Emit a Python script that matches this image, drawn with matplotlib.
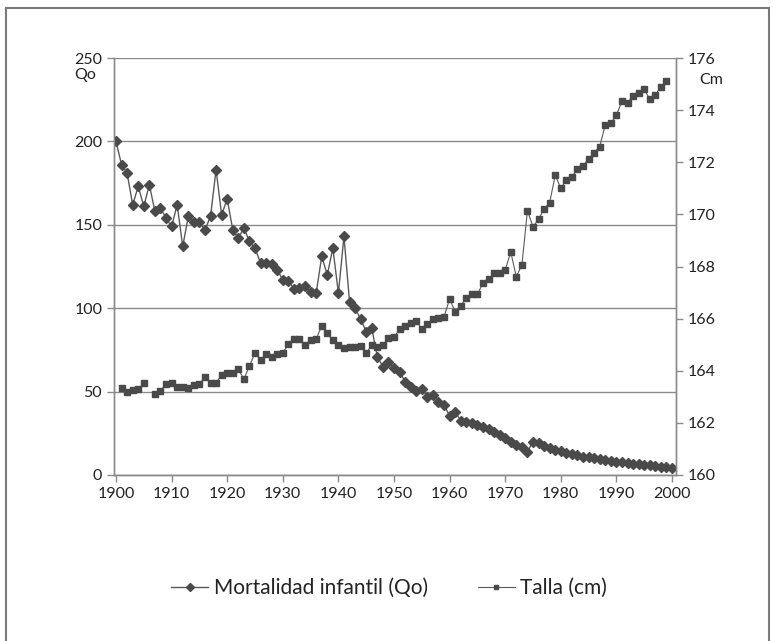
import numpy as np
from matplotlib import pyplot as plt
from matplotlib.lines import Line2D

plt.rcParams['font.family'] = ['Lato', 'DejaVu Sans']

# mortalidad infantil (Qo), 1900-2000
years_qo = list(range(1900, 2001))
qo = [200, 186, 181, 162, 173, 161, 174, 158, 160, 154,
      149, 162, 137, 155, 151.5, 151.5, 147, 155, 183, 156,
      165.5, 147, 142, 148, 140, 136, 127, 127, 126.5, 123,
      117, 116.5, 111.5, 112, 113.5, 110, 109, 131, 120, 136,
      109, 143, 104, 100, 93.5, 86, 88, 71, 65, 68,
      64, 62, 56, 52.5, 50.5, 51.5, 47, 48, 44, 42,
      35.5, 38, 32.5, 32, 31, 30, 29, 27.5, 26, 24,
      22, 20, 18, 16.5, 14, 20, 19, 17.5, 16, 15,
      14.5, 13, 12.5, 12, 11, 10.5, 10, 9.5, 9, 8.5,
      8, 7.5, 7, 6.8, 6.5, 6, 5.8, 5.4, 5, 4.7,
      4.3]

# talla (cm), 1901-1999 (1906 sin dato)
years_talla = list(range(1901, 2000))
talla = [163.33, 163.20, 163.26, 163.29, 163.52, np.nan, 163.10, 163.23, 163.49,
         163.54, 163.39, 163.37, 163.33, 163.45, 163.49, 163.77, 163.52, 163.54, 163.84,
         163.93, 163.93, 164.06, 163.68, 164.18, 164.69, 164.41, 164.63, 164.54, 164.64,
         164.69, 165.02, 165.21, 165.21, 164.99, 165.18, 165.21, 165.73, 165.44, 165.18,
         164.99, 164.86, 164.90, 164.92, 164.95, 164.67, 164.99, 164.92, 164.99, 165.25,
         165.28, 165.59, 165.72, 165.84, 165.92, 165.59, 165.79, 165.97, 166.01, 166.07,
         166.75, 166.27, 166.50, 166.78, 166.93, 166.93, 167.36, 167.51, 167.74, 167.76,
         167.87, 168.55, 167.61, 168.06, 170.14, 169.53, 169.81, 170.21, 170.45, 171.51,
         171.00, 171.32, 171.45, 171.74, 171.87, 172.13, 172.37, 172.60, 173.43, 173.50,
         173.81, 174.35, 174.29, 174.54, 174.67, 174.80, 174.42, 174.58, 174.90, 175.12]

qo_ticks = [0, 50, 100, 150, 200, 250]
talla_ticks = [160, 162, 164, 166, 168, 170, 172, 174, 176]
year_ticks = list(range(1900, 2001, 10))

W, H = 774, 641
fig = plt.figure(figsize=(W/100, H/100), dpi=100)
ax = fig.add_axes([114/W, 1-475/H, (676-114)/W, (475-58)/H])
ax2 = ax.twinx()

mark_col = '#4a4a4a'
line_col = '#5a5a5a'
grid_col = '#8a8a8a'
text_col = '#222222'

ax.plot(years_qo, qo, color=line_col, lw=1.0, marker='D', ms=5.5,
        mfc=mark_col, mec=mark_col, zorder=3)
ax2.plot(years_talla, talla, color=line_col, lw=0.8, marker='s', ms=4.5,
         mfc=mark_col, mec=mark_col, zorder=3)

ax.set_xlim(1899.64, 2000.72)
ax.set_ylim(0, 250)
ax2.set_ylim(160, 176)
ax.set_xticks(year_ticks)
ax.set_yticks(qo_ticks)
ax2.set_yticks(talla_ticks)

# horizontal gridlines only
ax.grid(axis='y', color=grid_col, lw=1.0)
ax.set_axisbelow(True)

for a in (ax, ax2):
    a.spines['top'].set_visible(False)
    for side in ('left', 'right', 'bottom'):
        a.spines[side].set_color(grid_col)
        a.spines[side].set_linewidth(1.0)
    a.tick_params(colors=grid_col, labelcolor=text_col, labelsize=11.5,
                  length=5, width=1.0, direction='out')

# axis titles placed in pixels, like the original
fig.text(85/W, 1-75/H, 'Qo', fontsize=11.5, color=text_col,
         ha='center', va='center')
fig.text(711/W, 1-80/H, 'Cm', fontsize=11.5, color=text_col,
         ha='center', va='center')

# legend below the plot
h1 = Line2D([], [], color=line_col, lw=1.0, marker='D', ms=4,
            mfc=mark_col, mec=mark_col)
h2 = Line2D([], [], color=line_col, lw=0.8, marker='s', ms=3.5,
            mfc=mark_col, mec=mark_col)
fig.legend([h1, h2], ['Mortalidad infantil (Qo)', 'Talla (cm)'],
           loc='center', bbox_to_anchor=(389/W, 1-588/H), ncol=2,
           frameon=False, fontsize=15, handlelength=1.8,
           handletextpad=0.25, columnspacing=2.4, labelcolor=text_col)

# chart-area frame
for xs, ys in (([6, 6], [0, 633]), ([6, 769], [633, 633]), ([769, 769], [633, 0])):
    fig.add_artist(Line2D([x/W for x in xs], [y/H for y in ys],
                          color='#7a7a7a', lw=1.5))

fig.savefig('out.png', dpi=100)
